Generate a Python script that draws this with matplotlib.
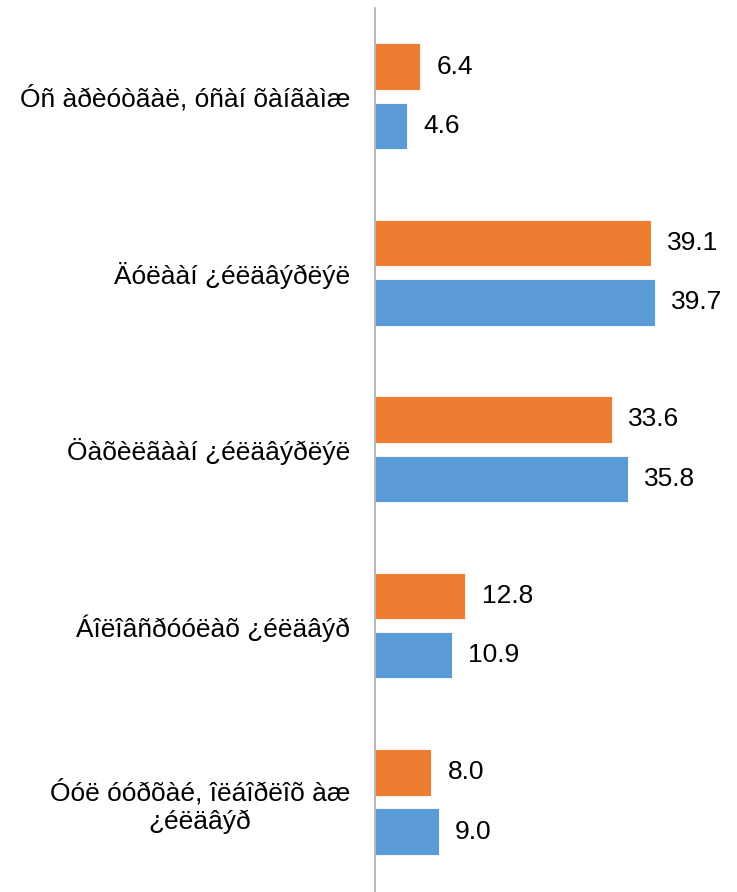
import numpy as np
from matplotlib import pyplot as plt

# Данные
categories = ['Óñ àðèóòãàë, óñàí õàíãàìæ',
              'Äóëààí ¿éëäâýðëýë',
              'Öàõèëãààí ¿éëäâýðëýë',
              'Áîëîâñðóóëàõ ¿éëäâýð',
              'Óóë óóðõàé, îëáîðëîõ àæ\n¿éëäâýð']
orange_vals = [6.4, 39.1, 33.6, 12.8, 8.0]
blue_vals = [4.6, 39.7, 35.8, 10.9, 9.0]

orange = '#ED7D31'
blue = '#5B9BD5'

plt.rcParams['font.family'] = ['Liberation Sans', 'DejaVu Sans']

fig = plt.figure(figsize=(7.37, 8.92), dpi=100)
ax = fig.add_axes([375 / 737, 0.0, 1 - 375 / 737, 1 - 8 / 892])

y = np.arange(len(categories))
h = 0.263
off = 0.168

ax.barh(y - off, orange_vals, height=h, color=orange, edgecolor='white', linewidth=0.6)
ax.barh(y + off, blue_vals, height=h, color=blue, edgecolor='white', linewidth=0.6)

for i in range(len(categories)):
    ax.text(orange_vals[i] + 2.3, y[i] - off, '%.1f' % orange_vals[i],
            va='center', ha='left', fontsize=19)
    ax.text(blue_vals[i] + 2.3, y[i] + off, '%.1f' % blue_vals[i],
            va='center', ha='left', fontsize=19)

ax.set_xlim(0, 51.3)
ax.set_ylim(len(categories) - 0.5 + 0.01, -0.5)
ax.set_yticks(y)
ax.set_yticklabels(categories, fontsize=19, ha='center')
ax.tick_params(axis='y', length=0, pad=0)
ax.set_xticks([])

# подписи категорий по центру относительно своей ширины
fig.canvas.draw()
r = fig.canvas.get_renderer()
for lab in ax.get_yticklabels():
    w = lab.get_window_extent(r).width
    lab.set_x(-(25 + w / 2) / (ax.get_window_extent(r).width))
    lab.set_ha('center')
    lab.set_multialignment('center')

for s in ['top', 'right', 'bottom']:
    ax.spines[s].set_visible(False)
ax.spines['left'].set_color('#A6A6A6')
ax.spines['left'].set_linewidth(1.1)

plt.savefig('out.png', dpi=100)
